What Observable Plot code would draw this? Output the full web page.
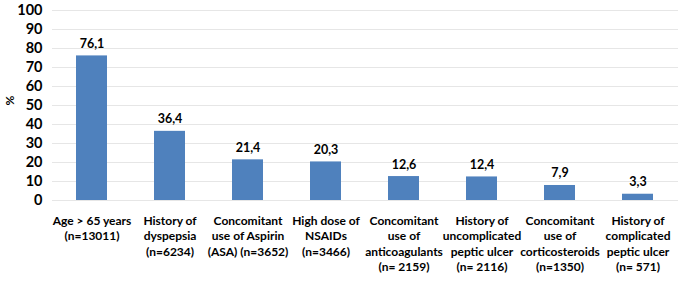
<!DOCTYPE html>
<html>
<head>
<meta charset="utf-8">
<script src="https://cdn.jsdelivr.net/npm/d3@7"></script>
<script src="https://cdn.jsdelivr.net/npm/@observablehq/plot@0.6"></script>
<style>
  html, body { margin: 0; padding: 0; background: #fff; }
</style>
</head>
<body>
<div id="chart"></div>
<script>
const categories = [
  "Age > 65 years\n(n=13011)",
  "History of\ndyspepsia\n(n=6234)",
  "Concomitant\nuse of Aspirin\n(ASA) (n=3652)",
  "High dose of\nNSAIDs\n(n=3466)",
  "Concomitant\nuse of\nanticoagulants\n(n= 2159)",
  "History of\nuncomplicated\npeptic ulcer\n(n= 2116)",
  "Concomitant\nuse of\ncorticosteroids\n(n=1350)",
  "History of\ncomplicated\npeptic ulcer\n(n= 571)"
];
const values = [76.1, 36.4, 21.4, 20.3, 12.6, 12.4, 7.9, 3.3];
const yTicks = [0, 10, 20, 30, 40, 50, 60, 70, 80, 90, 100];

const data = categories.map((c, i) => ({category: c, value: values[i]}));
const fmt = v => d3.format(".1f")(v).replace(".", ",");
const FONT = "Lato, 'Open Sans', sans-serif";

const chart = Plot.plot({
  width: 685,
  height: 288,
  marginLeft: 52,
  marginRight: 7,
  marginTop: 10,
  marginBottom: 88,
  style: {fontFamily: FONT, fontWeight: "bold", color: "#000", background: "#fff"},
  x: {domain: categories, paddingInner: 0.6, paddingOuter: 0.3, label: null},
  y: {domain: [0, 100], label: null},
  marks: [
    Plot.gridY(yTicks, {stroke: "#e6e6e6", strokeOpacity: 1, strokeWidth: 1}),
    Plot.barY(data, {x: "category", y: "value", fill: "#4f81bd"}),
    Plot.text(data, {x: "category", y: "value", text: d => fmt(d.value), dy: -12, fontSize: 12.5, fontWeight: "bold", fill: "#000"}),
    Plot.axisY({ticks: yTicks, tickSize: 0, tickPadding: 10, fontSize: 14.5, fontWeight: "bold", label: null}),
    Plot.axisX({tickSize: 0, tickPadding: 13, fontSize: 12, fontWeight: "bold", lineHeight: 1.3, label: null}),
    Plot.text(["%"], {frameAnchor: "left", dx: -42, rotate: -90, fontSize: 12, fontWeight: "bold", fill: "#000"})
  ]
});
document.getElementById("chart").appendChild(chart);
</script>
</body>
</html>
